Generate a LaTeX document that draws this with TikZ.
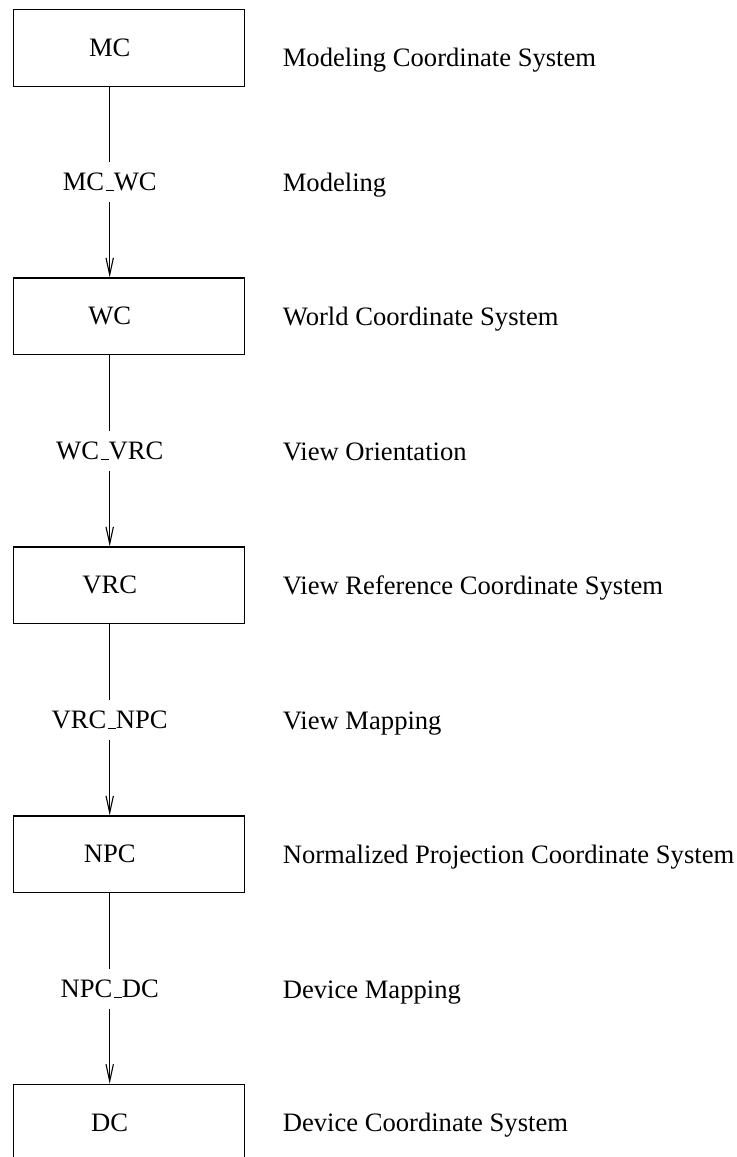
\documentclass[tikz,border=0pt]{standalone}
\usepackage{fontspec}
\setmainfont{Liberation Serif}
\usetikzlibrary{arrows.meta}
% underscore drawn as a short rule on the baseline
\newcommand\lowbar{\leavevmode\kern.06em\vbox{\hrule width.3em}}

\begin{document}
\begin{tikzpicture}[x=0.5pt,y=-0.5pt,line width=0.55pt,
  txt/.style={font=\fontsize{13.3}{16}\selectfont},
  csbox/.style={draw,rectangle,minimum width=115.5pt,minimum height=38.35pt,inner sep=0},
  csname/.style={txt,inner sep=0},
  xform/.style={txt,inner sep=0,minimum height=19.6pt},
  note/.style={txt,inner sep=0,anchor=base west},
  flow/.style={-{Straight Barb[length=8.5pt,width=3.7pt]}}]
\clip (0,0) rectangle (737,1157);
\useasboundingbox (0,0) rectangle (737,1157);

% coordinate systems
\node[csbox] (mcb)  at (128.8,47.7)   {};
\node[csbox] (wcb)  at (128.8,316.3)  {};
\node[csbox] (vrcb) at (128.8,585.3)  {};
\node[csbox] (npcb) at (128.8,854.3)  {};
\node[csbox] (dcb)  at (128.8,1122.7) {};

\node[csname] (mc)  at (109.7,47.7)   {MC};
\node[csname] (wc)  at (109.7,316.3)  {WC};
\node[csname] (vrc) at (109.7,585.3)  {VRC};
\node[csname] (npc) at (109.7,854.3)  {NPC};
\node[csname] (dc)  at (109.7,1122.7) {DC};

% transformations between them
\node[xform] (mcwc)   at (109.7,182.0) {MC\lowbar WC};
\node[xform] (wcvrc)  at (109.7,451.0) {WC\lowbar VRC};
\node[xform] (vrcnpc) at (109.7,720.0) {VRC\lowbar NPC};
\node[xform] (npcdc)  at (109.7,989.0) {NPC\lowbar DC};

% descriptions
\node[note] (mcn)   at (282.3,66.5)   {Modeling Coordinate System};
\node[note] (mcwcn) at (282.3,191.0)  {Modeling};
\node[note] (wcn)   at (282.3,325.3)  {World Coordinate System};
\node[note] (wcvrcn) at (282.3,460.0) {View Orientation};
\node[note] (vrcn)  at (282.3,594.3)  {View Reference Coordinate System};
\node[note] (vrcnpcn) at (282.3,729.0) {View Mapping};
\node[note] (npcn)  at (282.3,863.3)  {Normalized Projection Coordinate System};
\node[note] (npcdcn) at (282.3,998.0) {Device Mapping};
\node[note] (dcn)   at (282.3,1131.7) {Device Coordinate System};

% connectors
\draw (mcb.south -| mc) -- (mcwc.north);
\draw[flow] (mcwc.south) -- (wcb.north -| wc);
\draw (wcb.south -| wc) -- (wcvrc.north);
\draw[flow] (wcvrc.south) -- (vrcb.north -| vrc);
\draw (vrcb.south -| vrc) -- (vrcnpc.north);
\draw[flow] (vrcnpc.south) -- (npcb.north -| npc);
\draw (npcb.south -| npc) -- (npcdc.north);
\draw[flow] (npcdc.south) -- (dcb.north -| dc);
\end{tikzpicture}
\end{document}
